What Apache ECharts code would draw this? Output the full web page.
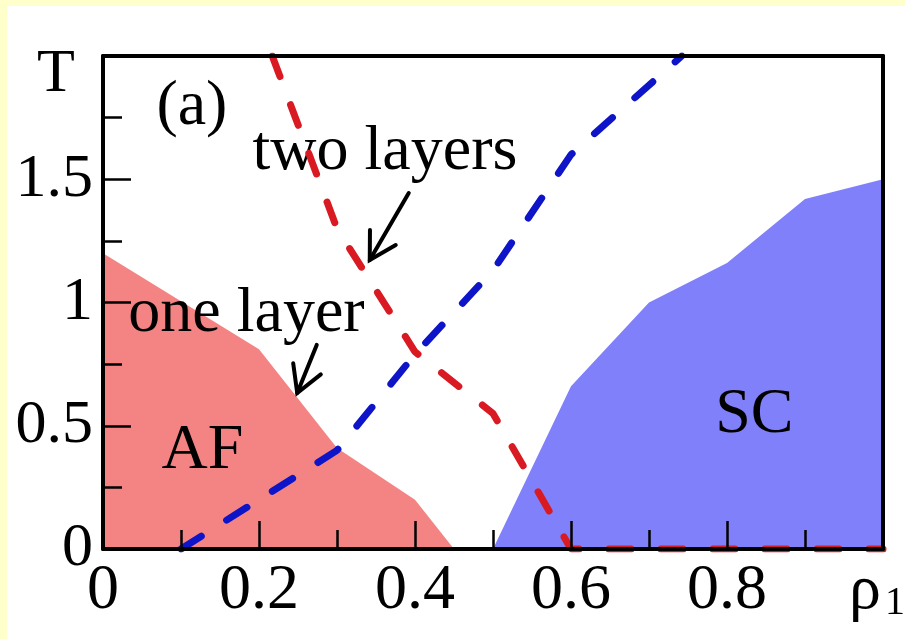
<!DOCTYPE html>
<html>
<head>
<meta charset="utf-8">
<script src="https://cdn.jsdelivr.net/npm/echarts@6/dist/echarts.min.js"></script>
<style>
  html, body { margin: 0; padding: 0; background: #FFFFCC; }
  #chart { position: absolute; left: 7px; top: 6px; width: 898px; height: 633px; background: #fff; }
</style>
</head>
<body>
<div id="chart"></div>
<script>
// Axis ticks and their labels
const xTicks = [0, 0.2, 0.4, 0.6, 0.8, 1];
const xTickLabels = ['0', '0.2', '0.4', '0.6', '0.8', '{r|ρ}{s|1}'];
const yTicks = [0, 0.5, 1, 1.5];
const yTickLabels = ['0', '0.5', '1', '1.5'];

// Phase regions (upper boundary, filled down to T = 0)
const afBoundary = [[0, 1.2], [0.2, 0.81], [0.3, 0.41], [0.4, 0.2], [0.45, 0]];
const scBoundary = [[0.5, 0], [0.6, 0.66], [0.7, 1.0], [0.8, 1.16], [0.9, 1.42], [1.0, 1.5]];

// Dashed transition curves
const redCurve = [[0.217, 2.0], [0.3, 1.3], [0.34, 1.1], [0.4, 0.8], [0.5, 0.55], [0.6, 0], [1.0, 0]];
const blueCurve = [[0.1, 0], [0.3, 0.4], [0.4, 0.79], [0.5, 1.13], [0.6, 1.6], [0.742, 2.0]];

// In-plot annotations (data coordinates)
const noteText = ['(a)', 'two layers', 'one layer', 'AF', 'SC'];
const notePos = [[0.114, 1.793], [0.3615, 1.61], [0.184, 0.953], [0.1276, 0.395], [0.835, 0.543]];
// Arrows: [tailX, tailY, tipX, tipY]
const arrows = [[0.392, 1.444, 0.342, 1.172], [0.274, 0.828, 0.249, 0.633]];

const FONT = "'Liberation Serif', 'Times New Roman', serif";

const chart = echarts.init(document.getElementById('chart'), null, { renderer: 'canvas' });

function matchLabel(ticks, labels, v) {
  const i = ticks.findIndex(t => Math.abs(t - v) < 1e-6);
  return i < 0 ? '' : labels[i];
}

function renderNote(params, api) {
  const p = api.coord([api.value(0), api.value(1)]);
  return {
    type: 'text', x: p[0], y: p[1],
    style: {
      text: noteText[params.dataIndex], fontSize: 64, fontFamily: FONT,
      fill: '#000', align: 'center', verticalAlign: 'middle'
    }
  };
}

function renderArrow(params, api) {
  const a = api.coord([api.value(0), api.value(1)]);
  const b = api.coord([api.value(2), api.value(3)]);
  const ang = Math.atan2(b[1] - a[1], b[0] - a[0]);
  const L = 30, spread = 0.52;
  const p1 = [b[0] - L * Math.cos(ang - spread), b[1] - L * Math.sin(ang - spread)];
  const p2 = [b[0] - L * Math.cos(ang + spread), b[1] - L * Math.sin(ang + spread)];
  return {
    type: 'group',
    children: [
      { type: 'line', shape: { x1: a[0], y1: a[1], x2: b[0], y2: b[1] },
        style: { stroke: '#000', lineWidth: 4, lineCap: 'round' } },
      { type: 'polyline', shape: { points: [p1, b, p2] },
        style: { stroke: '#000', lineWidth: 4, fill: null, lineCap: 'round', lineJoin: 'miter' } }
    ]
  };
}

const axisLineStyle = { color: '#000', width: 4 };

const option = {
  animation: false,
  backgroundColor: '#fff',
  grid: { left: 96, right: 22, top: 50, bottom: 90, containLabel: false, outerBoundsMode: 'none' },
  graphic: [{
    type: 'text', left: 30, top: 38,
    style: { text: 'T', fontSize: 62, fontFamily: FONT, fill: '#000' }
  }],
  xAxis: [{
    type: 'value', min: 0, max: 1, interval: 0.2, z: 10,
    axisLine: { show: true, onZero: false, lineStyle: axisLineStyle },
    axisTick: { show: true, inside: true, length: 28, lineStyle: { color: '#000', width: 2.5 } },
    minorTick: { show: true, splitNumber: 2, length: 19, lineStyle: { color: '#000', width: 2.5 } },
    splitLine: { show: false },
    axisLabel: {
      show: true, margin: 10, fontSize: 64, fontFamily: FONT, color: '#000', lineHeight: 64,
      showMinLabel: true, showMaxLabel: true, hideOverlap: false,
      formatter: v => matchLabel(xTicks, xTickLabels, v),
      rich: {
        r: { fontSize: 64, fontFamily: FONT, lineHeight: 64, verticalAlign: 'top', color: '#000', padding: [0, 0, 14, 0] },
        s: { fontSize: 40, fontFamily: FONT, lineHeight: 40, verticalAlign: 'bottom', color: '#000', padding: [0, 12, 0, 4] }
      }
    }
  }, {
    type: 'value', min: 0, max: 1, position: 'top', z: 10,
    axisLine: { show: true, onZero: false, lineStyle: axisLineStyle },
    axisTick: { show: false }, axisLabel: { show: false }, splitLine: { show: false }
  }],
  yAxis: [{
    type: 'value', min: 0, max: 2, interval: 0.5, z: 10,
    axisLine: { show: true, onZero: false, lineStyle: axisLineStyle },
    axisTick: { show: true, inside: true, length: 28, lineStyle: { color: '#000', width: 2.5 } },
    minorTick: { show: true, splitNumber: 2, length: 19, lineStyle: { color: '#000', width: 2.5 } },
    splitLine: { show: false },
    axisLabel: {
      show: true, margin: 10, fontSize: 62, fontFamily: FONT, color: '#000',
      showMaxLabel: false, hideOverlap: false,
      formatter: v => matchLabel(yTicks, yTickLabels, v)
    }
  }, {
    type: 'value', min: 0, max: 2, position: 'right', z: 10,
    axisLine: { show: true, onZero: false, lineStyle: axisLineStyle },
    axisTick: { show: false }, axisLabel: { show: false }, splitLine: { show: false }
  }],
  series: [
    {
      name: 'AF', type: 'line', data: afBoundary, symbol: 'none', z: 1,
      lineStyle: { width: 0 }, areaStyle: { color: '#F48484', opacity: 1 }
    },
    {
      name: 'SC', type: 'line', data: scBoundary, symbol: 'none', z: 1,
      lineStyle: { width: 0 }, areaStyle: { color: '#8080FA', opacity: 1 }
    },
    {
      name: 'notes', type: 'custom', renderItem: renderNote, data: notePos, z: 2, clip: false,
      encode: { x: 0, y: 1 }
    },
    {
      name: 'arrows', type: 'custom', renderItem: renderArrow, data: arrows, z: 2, clip: false,
      encode: { x: [0, 2], y: [1, 3] }
    },
    {
      name: 'red', type: 'line', data: redCurve, symbol: 'none', z: 3,
      lineStyle: { color: '#DA1A22', width: 7, type: [22, 30], cap: 'round' }
    },
    {
      name: 'blue', type: 'line', data: blueCurve, symbol: 'none', z: 3,
      lineStyle: { color: '#0E14C8', width: 7, type: [24, 30], cap: 'round' }
    }
  ]
};

chart.setOption(option);
</script>
</body>
</html>
